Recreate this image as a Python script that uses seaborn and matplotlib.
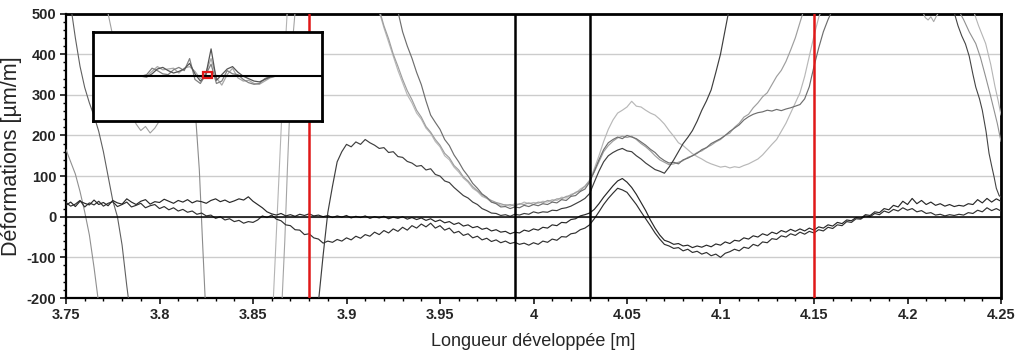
import numpy as np
import pandas as pd
import matplotlib
matplotlib.use("Agg")
import matplotlib.pyplot as plt
import seaborn as sns
from matplotlib.patches import Rectangle
from matplotlib.ticker import MultipleLocator, FuncFormatter

sns.set_theme(style="white")
plt.rcParams['font.family'] = ['Liberation Sans', 'DejaVu Sans']
plt.rcParams['axes.unicode_minus'] = False

# ---------------------------------------------------------------------------
# Strain records (µm/m) sampled every 2.5 mm of developed length
# ---------------------------------------------------------------------------
STEP = 0.0025

e1_start = 3.75
e1_vals = [28, 36, 25, 38, 33, 29, 41, 30, 35, 27, 40, 34, 31, 44, 36, 30, 38, 42, 31, 37,
           35, 43, 38, 33, 40, 36, 42, 34, 39, 37, 33, 40, 44, 37, 41, 35, 39, 44, 41, 49,
           38, 30, 22, 12, 7, 4, 8, 2, 5, 1, 6, 3, 7, 2, 4, 0, 3, -2, 2, -1,
           3, -3, 1, -2, 2, -4, 0, -3, 1, -5, -1, -4, 0, -6, -2, -7, -3, -9, -5, -12,
           -8, -15, -12, -19, -15, -23, -20, -27, -24, -31, -28, -35, -32, -38, -36, -42, -38, -40, -33, -36,
           -30, -33, -26, -28, -20, -22, -14, -15, -7, -5, 2, 5, 9, 18, 32, 48, 62, 76, 88, 94,
           85, 72, 55, 35, 15, -8, -28, -45, -58, -62, -68, -66, -72, -70, -76, -72, -75, -70, -74, -67,
           -70, -62, -66, -58, -60, -52, -55, -47, -50, -42, -46, -38, -42, -34, -38, -31, -36, -30, -35, -28,
           -33, -25, -28, -20, -23, -14, -17, -8, -10, -2, -4, 5, 3, 12, 10, 20, 17, 28, 24, 38,
           30, 45, 32, 40, 30, 36, 28, 32, 26, 30, 25, 28, 26, 32, 30, 42, 34, 45, 36, 44, 38]

e2_start = 3.75
e2_vals = [35, 26, 31, 40, 24, 34, 29, 38, 26, 33, 37, 25, 30, 36, 24, 28, 33, 22, 27, 30,
           20, 25, 17, 22, 14, 18, 11, 14, 6, 9, 2, 4, -4, 0, -8, -5, -12, -9, -16, -12,
           -14, -8, 2, -2, 4, -6, -10, -20, -22, -32, -33, -44, -42, -52, -55, -65, -60, -63, -56, -60,
           -52, -57, -48, -53, -44, -48, -38, -44, -34, -40, -30, -36, -26, -33, -22, -28, -18, -25, -16, -28,
           -22, -33, -28, -40, -36, -46, -42, -52, -48, -57, -53, -61, -57, -64, -60, -66, -63, -68, -65, -70,
           -64, -68, -60, -63, -55, -58, -49, -50, -42, -40, -32, -28, -20, -5, 12, 30, 45, 58, 70, 66,
           60, 45, 30, 12, -5, -22, -40, -55, -68, -72, -78, -76, -84, -80, -88, -85, -92, -88, -96, -92,
           -100, -90, -86, -80, -84, -75, -78, -68, -72, -62, -64, -54, -56, -47, -50, -42, -46, -38, -43, -36,
           -40, -32, -35, -26, -29, -20, -22, -12, -14, -5, -6, 2, 0, 8, 5, 14, 10, 18, 14, 22,
           16, 20, 12, 15, 8, 10, 4, 6, 2, 5, 3, 6, 4, 10, 8, 16, 12, 22, 15, 20, 14]

bump_start = 3.885
bump_vals = [-210, -95, 10, 75, 135, 160, 178, 172, 184, 178, 190, 182, 176, 168, 170, 158, 160, 148,
             146, 136, 132, 124, 126, 115, 118, 104, 100, 88, 84, 72, 62, 52, 46, 36, 30, 20, 15, 9,
             8, 3, 5, 1, 6, 4, 8, 6, 12, 9, 12, 11, 16, 15, 20, 22, 26, 32, 38, 45, 57, 85, 112,
             135, 150, 158, 164, 168, 162, 160, 150, 142, 132, 124, 116, 112, 107, 122, 140, 160,
             180, 195, 212, 235, 262, 285, 312, 355, 400, 460, 520]

g1_start = 3.9175
g1_vals = [505, 465, 430, 395, 360, 330, 300, 280, 255, 240, 218, 205, 185, 172, 150, 140, 122, 110,
           95, 85, 70, 62, 50, 45, 36, 34, 28, 30, 26, 32, 30, 36, 32, 35, 33, 38, 36, 42, 40, 48,
           46, 55, 58, 68, 75, 90, 118, 150, 185, 215, 238, 255, 262, 270, 284, 272, 270, 262, 255,
           250, 240, 228, 212, 198, 182, 175, 165, 155, 148, 142, 135, 130, 126, 122, 124, 120, 123,
           121, 126, 130, 136, 142, 152, 165, 178, 190, 210, 230, 255, 280, 305, 345, 395, 445, 490, 520]

g2_start = 3.9275
g2_vals = [505, 455, 420, 390, 355, 325, 285, 250, 232, 215, 190, 175, 152, 135, 115, 100, 82, 70,
           56, 48, 36, 32, 24, 25, 20, 24, 22, 28, 25, 30, 27, 32, 30, 36, 34, 42, 40, 50, 52, 62,
           68, 85, 112, 140, 165, 182, 190, 196, 192, 200, 196, 192, 184, 176, 166, 158, 146, 138,
           132, 134, 130, 140, 144, 150, 156, 165, 170, 180, 186, 192, 200, 210, 218, 226, 238, 246,
           252, 256, 258, 262, 260, 264, 261, 265, 268, 272, 276, 290, 320, 370, 415, 455, 485, 510]

g3_start = 3.9175
g3_vals = [510, 470, 438, 400, 370, 338, 310, 288, 262, 245, 222, 208, 190, 176, 156, 145, 126, 115,
           98, 88, 74, 64, 54, 46, 40, 35, 32, 28, 30, 26, 32, 30, 34, 30, 36, 34, 40, 38, 44, 44,
           50, 52, 60, 64, 75, 88, 110, 135, 160, 175, 186, 194, 198, 195, 198, 190, 180, 172, 162,
           150, 140, 134, 128, 130, 134, 138, 146, 150, 158, 162, 170, 176, 184, 190, 200, 206, 220,
           230, 245, 252, 268, 280, 295, 305, 325, 345, 360, 382, 410, 440, 478, 515]

l1_start = 3.7525
l1_vals = [520, 440, 370, 318, 280, 248, 210, 160, 100, 40, 0, -70, -170, -260]

l2_start = 3.75
l2_vals = [165, 135, 105, 62, 12, -45, -125, -215]

l3_start = 3.77
l3_vals = [560, 500, 445, 390, 340, 295, 255, 228, 212, 222, 206, 218, 236, 258, 290, 320, 350]

# steep traces given point by point
v1_x = [3.8608, 3.8625, 3.8640, 3.8655, 3.8670, 3.8685]
v1_y = [-210, -40, 110, 260, 400, 520]
v2_x = [3.8655, 3.8670, 3.8685, 3.8700, 3.8715, 3.8730]
v2_y = [-210, -60, 130, 300, 450, 530]
v3_x = [3.8170, 3.8185, 3.8196, 3.8213, 3.8230, 3.8245]
v3_y = [330, 270, 229, 115, -60, -210]

r0_x = [4.2080, 4.2095, 4.2110, 4.2125, 4.2140, 4.2155, 4.2170]
r0_y = [505, 490, 484, 492, 480, 494, 505]
r1_x = [4.2245, 4.2270, 4.2290, 4.2310, 4.2330, 4.2350, 4.2365, 4.2385, 4.2400, 4.2420,
        4.2436, 4.2450, 4.2463, 4.2475, 4.2490, 4.2500]
r1_y = [510, 470, 445, 425, 395, 350, 319, 290, 262, 210, 156, 125, 98, 70, 52, 48]
r2_x = [4.2270, 4.2300, 4.2330, 4.2365, 4.2390, 4.2418, 4.2440, 4.2463, 4.2480, 4.2500]
r2_y = [510, 485, 455, 426, 392, 344, 305, 262, 230, 185]
r3_x = [4.2350, 4.2380, 4.2418, 4.2445, 4.2468, 4.2485, 4.2500]
r3_y = [510, 470, 426, 375, 320, 285, 250]

# section markers
red_marks = [3.88, 4.15]
black_marks = [3.99, 4.03]

# overview of the whole passage (inset)
ov_start = 0.3
ov_step = 0.3
ov_a = [0, -100, 300, 900, 1100, 700, 400, 600, 900, 1600, 300, -600, 100, 3400, -500, 200,
        900, 1200, 500, 0, -300, -600, -700, -400, -100, 0]
ov_b = [0, 200, 1000, 700, 300, 200, 800, 1100, 700, 2200, -400, -900, 200, 1500, -900, -600,
        700, 300, 200, -400, -800, -1000, -900, -300, 0, 0]
ov_c = [0, 0, 600, 1200, 800, 900, 1000, 400, 1000, 1200, 600, -300, 400, 2200, -200, -1100,
        200, 1000, -200, -600, -500, -900, -1000, -600, -200, 0]
zoom_window = (3.75, 4.25, -200, 500)

x_ticks = [3.75, 3.8, 3.85, 3.9, 3.95, 4.0, 4.05, 4.1, 4.15, 4.2, 4.25]
y_ticks = [-200, -100, 0, 100, 200, 300, 400, 500]


def on_grid(start, vals, step=STEP):
    return pd.DataFrame({"x": start + step * np.arange(len(vals)), "y": vals})


def pts(xs, ys):
    return pd.DataFrame({"x": xs, "y": ys})


W, H = 1017, 354
fig = plt.figure(figsize=(W / 100, H / 100), dpi=100)
ax = fig.add_axes([66 / W, 1 - 298 / H, 935 / W, 284.5 / H])

traces = [
    (on_grid(l2_start, l2_vals), "#909090", 0.8),
    (on_grid(l3_start, l3_vals), "#a0a0a0", 0.8),
    (on_grid(l1_start, l1_vals), "#606060", 0.8),
    (pts(v3_x, v3_y), "#8c8c8c", 0.8),
    (pts(v1_x, v1_y), "#b4b4b4", 0.8),
    (pts(v2_x, v2_y), "#a4a4a4", 0.8),
    (pts(r0_x, r0_y), "#aaaaaa", 0.8),
    (pts(r3_x, r3_y), "#b4b4b4", 0.8),
    (pts(r2_x, r2_y), "#909090", 0.8),
    (pts(r1_x, r1_y), "#444444", 0.8),
    (on_grid(g1_start, g1_vals), "#b8b8b8", 0.85),
    (on_grid(g3_start, g3_vals), "#9e9e9e", 0.85),
    (on_grid(g2_start, g2_vals), "#6e6e6e", 0.85),
    (on_grid(bump_start, bump_vals), "#3e3e3e", 0.85),
    (on_grid(e2_start, e2_vals), "#303030", 0.85),
    (on_grid(e1_start, e1_vals), "#282828", 0.85),
]
for df, col, lw in traces:
    sns.lineplot(data=df, x="x", y="y", ax=ax, color=col, linewidth=lw,
                 estimator=None, sort=False, zorder=3)

ax.axhline(0, color="black", lw=1.1, zorder=4)
for xv in red_marks:
    ax.axvline(xv, color="#e01818", lw=1.8, zorder=5)
for xv in black_marks:
    ax.axvline(xv, color="black", lw=1.8, zorder=5)

ax.set_xlim(3.75, 4.25)
ax.set_ylim(-200, 500)
ax.set_xticks(x_ticks)
ax.set_yticks(y_ticks)
ax.xaxis.set_minor_locator(MultipleLocator(0.01))
ax.yaxis.set_minor_locator(MultipleLocator(20))
ax.xaxis.set_major_formatter(FuncFormatter(lambda v, p: f"{v:g}"))
ax.yaxis.set_major_formatter(FuncFormatter(lambda v, p: f"{v:g}"))
ax.tick_params(axis="both", which="major", direction="out", length=4, width=1.1,
               color="black", labelsize=10.5, pad=3)
ax.tick_params(axis="both", which="minor", direction="out", length=2.5, width=1.0,
               color="black")
ax.tick_params(bottom=True, left=True, which="both")
for lab in ax.get_xticklabels() + ax.get_yticklabels():
    lab.set_fontweight("bold")

ax.yaxis.grid(True, color="#cccccc", lw=1.0, zorder=0)
ax.xaxis.grid(False)
ax.set_axisbelow(True)
for sp in ax.spines.values():
    sp.set_color("black")
    sp.set_linewidth(1.6)
    sp.set_visible(True)
ax.spines["top"].set_linewidth(2.0)
ax.spines["right"].set_linewidth(2.0)

ax.set_xlabel("Longueur développée [m]", fontsize=13, labelpad=8)
ax.set_ylabel("Déformations [µm/m]", fontsize=15.5, labelpad=3)

# overview inset
axin = fig.add_axes([93 / W, 1 - 120.5 / H, 229 / W, 88.5 / H], zorder=10)
axin.set_facecolor("white")
ov_x = ov_start + ov_step * np.arange(len(ov_a))
for vals, col in [(ov_c, "#a8a8a8"), (ov_b, "#808080"), (ov_a, "#555555")]:
    sns.lineplot(x=ov_x, y=vals, ax=axin, color=col, linewidth=0.9,
                 estimator=None, sort=False)
axin.axhline(0, color="black", lw=1.5)
x0, x1, y0, y1 = zoom_window
axin.add_patch(Rectangle((x0, y0), x1 - x0, y1 - y0, fill=False,
                         edgecolor="#e01818", lw=1.6, zorder=6))
axin.set_xlim(-2.4, 10.4)
axin.set_ylim(-5500, 5500)
axin.set_xticks([])
axin.set_yticks([])
axin.set_xlabel("")
axin.set_ylabel("")
for sp in axin.spines.values():
    sp.set_color("black")
    sp.set_linewidth(2.0)
    sp.set_visible(True)

fig.savefig("out.png", dpi=100)
